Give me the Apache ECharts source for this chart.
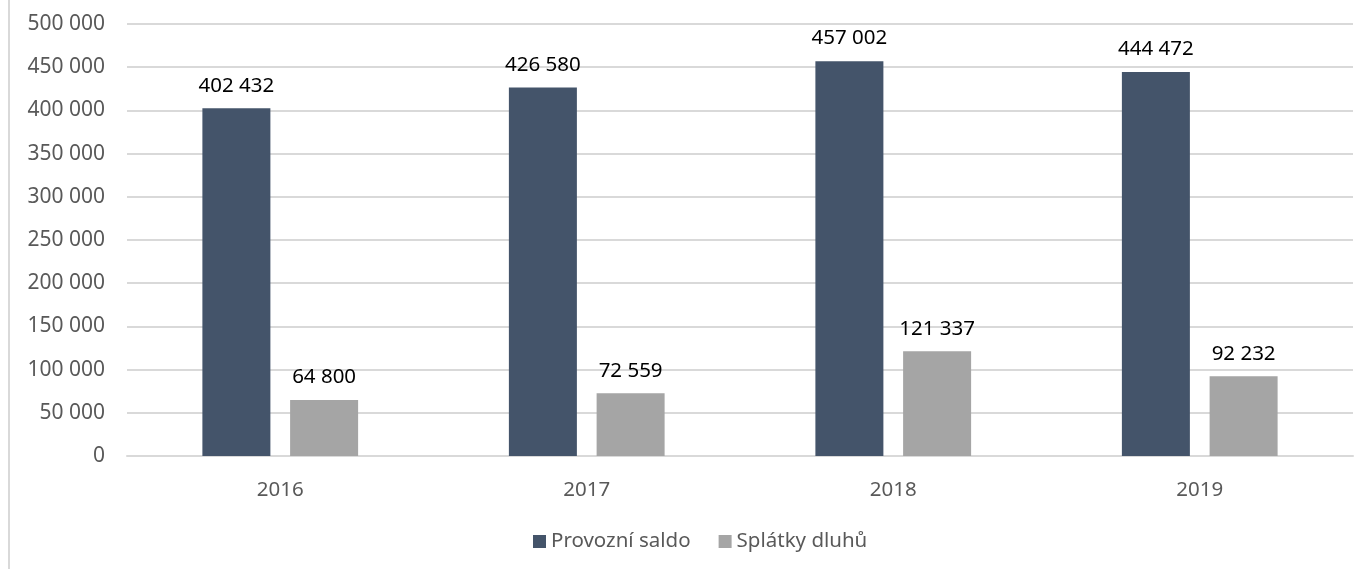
<!DOCTYPE html>
<html>
<head>
<meta charset="utf-8">
<script src="https://cdn.jsdelivr.net/npm/echarts@6/dist/echarts.min.js"></script>
<style>
  html, body { margin: 0; padding: 0; background: #fff; }
  #chart { width: 1370px; height: 569px; }
</style>
</head>
<body>
<div id="chart"></div>
<script>
const years = ['2016', '2017', '2018', '2019'];
const provozniSaldo = [402432, 426580, 457002, 444472];
const splatkyDluhu = [64800, 72559, 121337, 92232];

const fmt = v => String(v).replace(/\B(?=(\d{3})+(?!\d))/g, ' ');
const font = '"Noto Sans", sans-serif';

const chart = echarts.init(document.getElementById('chart'));
const option = {
  animation: false,
  textStyle: { fontFamily: font },
  graphic: [
    { type: 'line', shape: { x1: 9, y1: 0, x2: 9, y2: 569 }, style: { stroke: '#d9d9d9', lineWidth: 2 } }
  ],
  grid: { left: 127, right: 17, top: 24, bottom: 113 },
  legend: {
    left: 528,
    bottom: 12,
    itemWidth: 13,
    itemHeight: 13,
    itemGap: 28,
    itemStyle: { borderWidth: 0 },
    icon: 'rect',
    textStyle: { color: '#595959', fontSize: 20.5, fontFamily: font },
    data: ['Provozní saldo', 'Splátky dluhů']
  },
  xAxis: {
    type: 'category',
    data: years,
    axisLine: { lineStyle: { color: '#d9d9d9', width: 2 } },
    axisTick: { show: false },
    axisLabel: { color: '#595959', fontSize: 20.5, margin: 24 }
  },
  yAxis: {
    type: 'value',
    min: 0,
    max: 500000,
    interval: 50000,
    axisLine: { show: false },
    axisTick: { show: false },
    splitLine: { lineStyle: { color: '#d9d9d9', width: 2 } },
    axisLabel: { color: '#595959', fontSize: 21, margin: 22, formatter: fmt }
  },
  series: [
    {
      name: 'Provozní saldo',
      type: 'bar',
      data: provozniSaldo,
      barWidth: 68,
      barGap: '29%',
      itemStyle: { color: '#44546a' },
      label: { show: true, position: 'top', distance: 12, color: '#000', fontSize: 20.5, formatter: p => fmt(p.value) }
    },
    {
      name: 'Splátky dluhů',
      type: 'bar',
      data: splatkyDluhu,
      barWidth: 68,
      itemStyle: { color: '#a5a5a5' },
      label: { show: true, position: 'top', distance: 12, color: '#000', fontSize: 20.5, formatter: p => fmt(p.value) }
    }
  ]
};
chart.setOption(option);
</script>
</body>
</html>
